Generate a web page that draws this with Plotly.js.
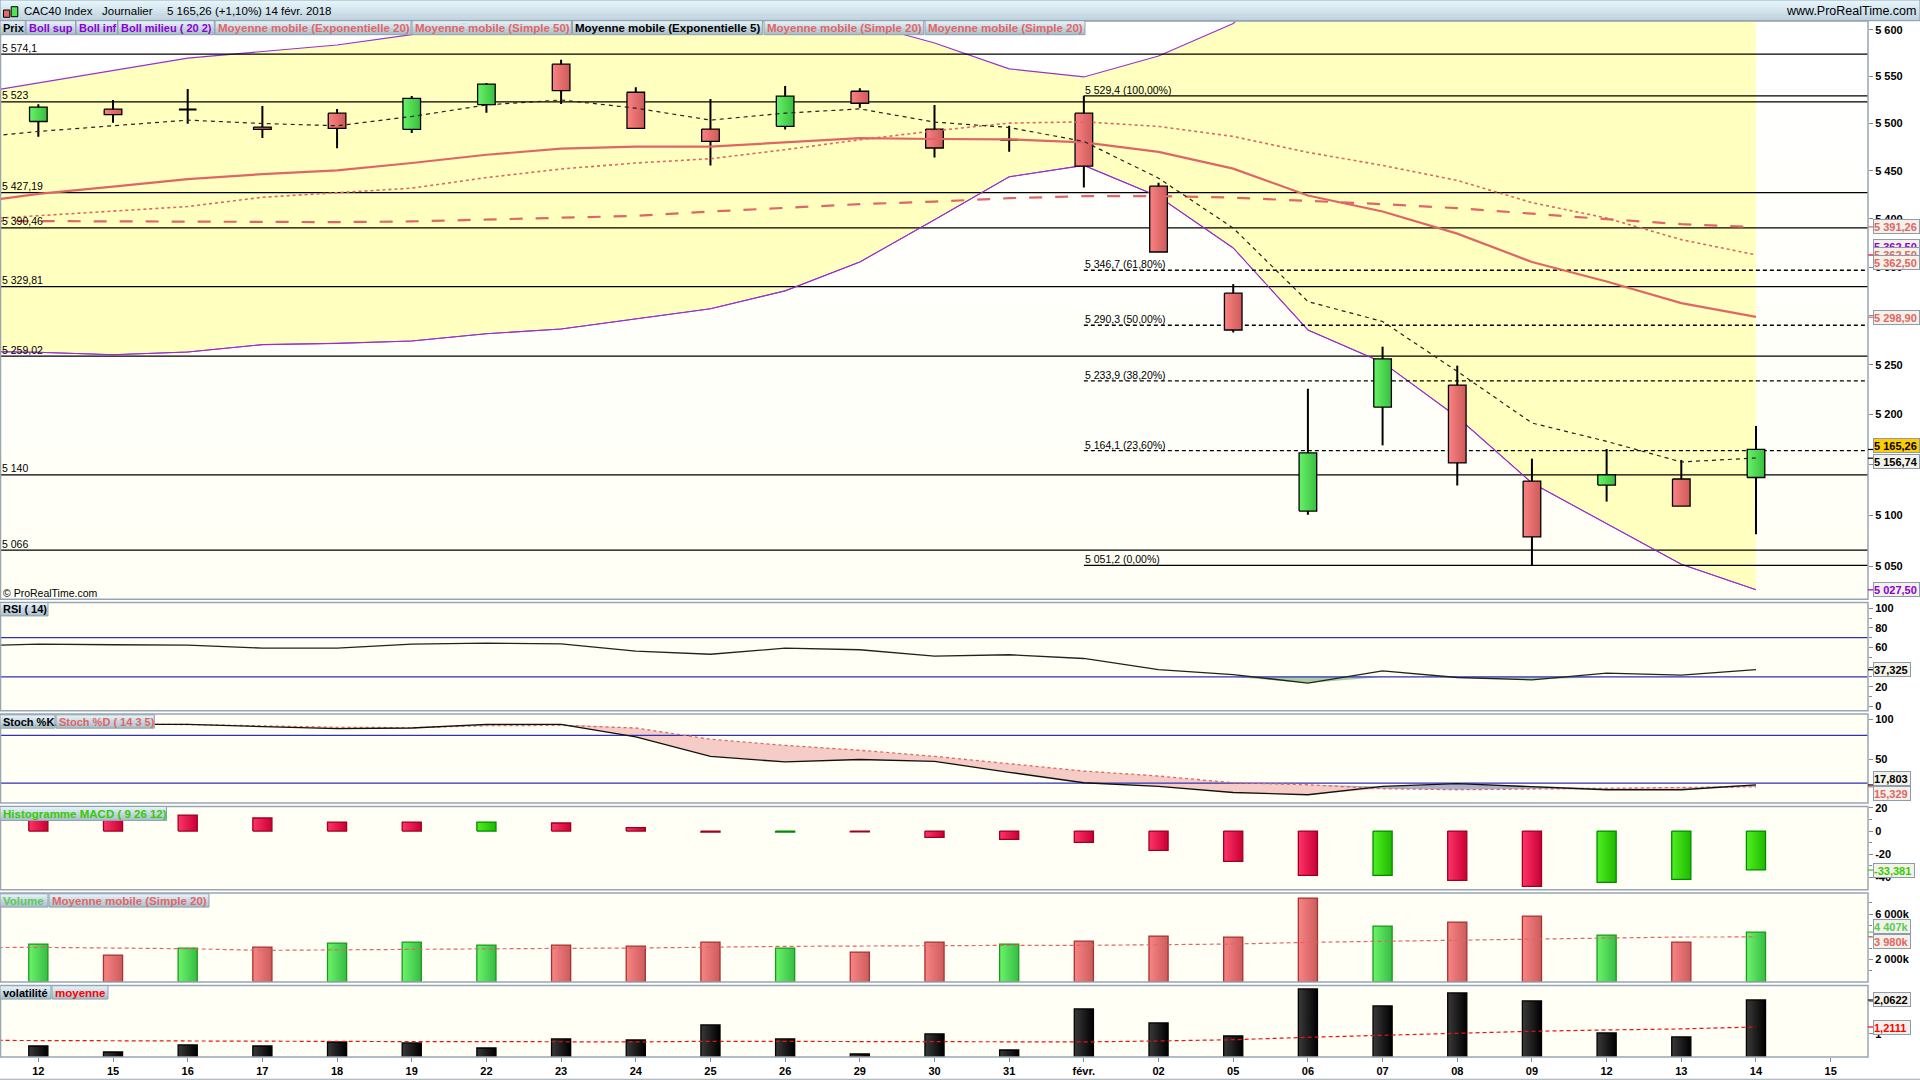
<!DOCTYPE html>
<html><head><meta charset="utf-8">
<script src="https://cdn.plot.ly/plotly-3.0.1.min.js"></script>
<style>html,body{margin:0;padding:0;background:#fff;overflow:hidden}#c{width:1920px;height:1080px}</style>
</head><body><div id="c"></div>
<script>
const tickLabels=["12","15","16","17","18","19","22","23","24","25","26","29","30","31","févr.","02","05","06","07","08","09","12","13","14","15"];
const open_=[5502.1,5515.2,5514.8,5496.2,5511,5493.7,5520,5563.2,5533.2,5494.1,5497,5534.3,5494.1,5482.8,5511,5434,5323.1,5104.3,5207.5,5229.7,5133.9,5129.9,5135.9,5137.4];
const close_=[5517.3,5509.5,5514.8,5493.7,5494.8,5526.8,5541.8,5535,5494.8,5481,5529,5521.5,5474.1,5482.8,5455.1,5365.5,5285.5,5161.8,5256.1,5151.8,5078.9,5139.9,5109.2,5165.26];
const high_=[5520.5,5525,5536.8,5518.7,5515.5,5529.3,5543.2,5567.9,5538.6,5526.1,5540,5537.5,5519.7,5497.6,5529.4,5437.5,5332.4,5226,5268.5,5249.3,5156.1,5165.7,5154.8,5188.7];
const low_=[5486,5500.8,5499.7,5484.6,5473.8,5490,5511.3,5520.8,5494.8,5455.8,5493.6,5516.6,5464.2,5470.2,5432.6,5365.5,5283,5100.7,5169.3,5129.5,5051.2,5113.6,5109.2,5081.5];
// indicator series start one bar before the first candle (index -1)
const bollUp=[5530,5543.2,5556.4,5569.7,5576.8,5583.9,5595,5612,5620,5625,5628,5625,5608,5586,5558.2,5549.6,5572.1,5607,5680,5740,5780,5800,5790,5770,5697.5];
const bollLow=[5264,5262.8,5260.4,5263.1,5270.6,5271.9,5274.3,5281.7,5286.5,5296.6,5307.1,5325.5,5355.2,5398.9,5443.8,5455.8,5423.1,5369.7,5285.5,5252.6,5197.6,5132,5091.9,5052.2,5027.5];
const sma20=[5398.4,5403,5407.5,5412.7,5422.4,5427.3,5431.9,5443,5452,5458.3,5462.8,5472.3,5482.8,5492.3,5500.4,5501.8,5496.9,5486.3,5469.5,5455.8,5440,5416.8,5400.7,5378.3,5362.5];
const ema20=[5415.5,5425.9,5433.6,5441.4,5446.6,5450.5,5458.3,5467,5473.4,5475.5,5475.5,5480,5484.6,5483.6,5483.2,5480,5470,5452.4,5424.2,5407.5,5384.5,5355.2,5335.1,5312.9,5298.9];
const sma50=[5397.8,5397.5,5396.8,5397.2,5396.5,5396.5,5397.2,5398.9,5400.7,5403,5407.5,5411,5415.2,5417.9,5421.4,5423.5,5423.5,5422,5418.6,5415.2,5411,5405.1,5399.6,5394.4,5391.26];
const ema5=[5483.9,5491.6,5497.6,5503.6,5500,5497.6,5507.4,5519.7,5525,5516.3,5503.6,5511,5515.5,5501.5,5495.8,5481,5442.4,5390.3,5314.5,5294.2,5243.5,5191.6,5173.3,5152.8,5156.74];
const hLevels=[5574.1,5523,5427.19,5390.46,5329.81,5259.02,5140,5066];
const hLabels=["5 574,1","5 523","5 427,19","5 390,46","5 329,81","5 259,02","5 140","5 066"];
const fiboLevels=[5529.4,5346.7,5290.3,5233.9,5164.1,5051.2];
const fiboLabels=["5 529,4 (100,00%)","5 346,7 (61,80%)","5 290,3 (50,00%)","5 233,9 (38,20%)","5 164,1 (23,60%)","5 051,2 (0,00%)"];
const priceTicks=[5600,5550,5500,5450,5400,5350,5300,5250,5200,5150,5100,5050];
const priceTickText=["5 600","5 550","5 500","5 450","5 400","5 350","5 300","5 250","5 200","5 150","5 100","5 050"];
const rsi=[61.2,63.5,62.8,62.4,59.4,59.4,63.5,64.5,63.8,56.3,53.1,59.3,57.7,51.2,52.6,48.8,37.4,32.4,23.7,36.2,29.4,27,33.9,31.8,37.325];
const stochK=[92,93,94,93.9,91,88.5,89.4,93.9,93.9,78.1,53.6,46.6,49.7,47.4,33.6,20.4,15.8,8.1,5.3,15.8,19.2,15.8,11.6,11.6,17.803];
const stochD=[92,93,94,93.8,92.1,90.3,89.8,92.3,92.7,89.4,75.2,67.5,61.3,53.7,44.4,35.1,28.9,20.4,17.9,12.9,11.6,12.5,13.2,14.1,15.329];
const macd=[11,11,13.7,11.2,7.7,7.7,7.7,6.9,2.9,-0.8,-0.8,-0.7,-5.4,-7.2,-9.7,-16.6,-26,-38,-38,-42.3,-47.5,-44,-41.5,-33.381];
const macdUp=[0,0,0,0,0,0,1,0,0,0,1,0,0,0,0,0,0,0,1,0,0,1,1,1];
const volume=[3354,2383,3001,3089,3442,3530,3266,3266,3177,3530,3001,2648,3530,3354,3619,4060,3972,7414,4943,5296,5825,4148,3530,4407];
const volUp=[1,0,1,0,1,1,1,0,0,0,1,0,0,1,0,0,0,0,1,0,0,1,0,1];
const volMA=[3030,3060,3001,2942,2795,2854,2913,2942,2971,3001,3089,3148,3177,3236,3236,3236,3266,3354,3501,3589,3707,3795,3883,3972,3980];
const volat=[.612,.423,.644,.612,.738,.707,.549,.833,.801,1.274,.833,.36,.991,.486,1.779,1.338,.927,2.41,1.874,2.284,2.031,1.022,.896,2.0622];
const volatMA=[.79,.78,.77,.77,.76,.76,.75,.75,.74,.74,.76,.76,.76,.75,.74,.74,.77,.81,.885,.95,1.02,1.075,1.117,1.15,1.2111];

const FONT="Liberation Sans";
const SALMON="#E06666",PURPLE="#9A30CC",BLUE="#3030B8",BORDER="#98A6B2";
const PL=1,PR=1868,PT=21,PB=1057.3;
const fx=p=>(p-PL)/(PR-PL), fy=p=>(PB-p)/(PB-PT);
const idx=Array.from({length:24},(_,i)=>i), idxM=Array.from({length:25},(_,i)=>i-1);
const traces=[];
const line=(x,y,ya,color,width,dash,extra)=>Object.assign({type:'scatter',mode:'lines',x,y,yaxis:ya,xaxis:'x',line:{color,width,dash:dash||'solid',shape:'linear'},hoverinfo:'skip',showlegend:false},extra||{});
function box(i,a,b,h,ya,c0,c1,lc,lw){
  traces.push({type:'scatter',mode:'lines',x:[i-h,i+h,i+h,i-h,i-h],y:[a,a,b,b,a],yaxis:ya,xaxis:'x',fill:'toself',
    fillgradient:{type:'horizontal',colorscale:[[0,c0],[1,c1]]},line:{color:lc,width:lw},hoverinfo:'skip',showlegend:false});
}
// MAIN
traces.push(line(idxM,bollLow,'y',PURPLE,1));
traces.push(line(idxM,bollUp,'y',PURPLE,1.1,'solid',{fill:'tonexty',fillcolor:'#FFFFC0'}));
hLevels.forEach(v=>traces.push(line([-0.5,24.5],[v,v],'y','#000',1.3)));
traces.push(line(idxM,bollLow,'y',PURPLE,1.1));
fiboLevels.forEach((v,k)=>traces.push(line([14,24.5],[v,v],'y','#000',1.3,(k===0||k===5)?'solid':'4px,3px')));
idx.forEach(i=>{
  traces.push(line([i,i],[low_[i],high_[i]],'y','#000',2));
  const up=close_[i]>open_[i], dj=close_[i]===open_[i];
  if(dj) traces.push(line([i-.118,i+.118],[close_[i],close_[i]],'y','#000',2));
  else box(i,open_[i],close_[i],.118,'y',up?'#68F268':'#FA8282',up?'#38BE3E':'#CE5A5A','#000',1.3);
});
traces.push(line(idxM,sma50,'y',SALMON,2.2,'13px,13px'));
traces.push(line(idxM,sma20,'y',SALMON,1.6,'3px,3px'));
traces.push(line(idxM,ema20,'y',SALMON,2.2));
traces.push(line(idxM,ema5,'y','#222',1.2,'4px,4px'));
// RSI
const r30=idxM.map(()=>30);
traces.push(line([-0.5,24.5],[70,70],'y2',BLUE,1.2));
traces.push(line(idxM,r30,'y2',BLUE,0));
traces.push(line(idxM,rsi.map(v=>Math.min(v,30)),'y2','rgba(0,0,0,0)',0,'solid',{fill:'tonexty',fillcolor:'#A9CDA2'}));
traces.push(line([-0.5,24.5],[30,30],'y2',BLUE,1.2));
traces.push(line(idxM,rsi,'y2','#222',1.3));
// STOCH
traces.push(line(idxM,stochK.map((v,i)=>Math.min(v,stochD[i])),'y3','rgba(0,0,0,0)',0));
traces.push(line(idxM,stochD,'y3','rgba(0,0,0,0)',0,'solid',{fill:'tonexty',fillcolor:'#F6CDC6'}));
traces.push(line(idxM,stochK.map((v,i)=>Math.max(v,stochD[i])),'y3','rgba(0,0,0,0)',0,'solid',{fill:'tonexty',fillcolor:'#AEB0CE'}));
traces.push(line([-0.5,24.5],[80,80],'y3',BLUE,1.2));
traces.push(line([-0.5,24.5],[20,20],'y3',BLUE,1.2));
traces.push(line(idxM,stochD,'y3',SALMON,1.3,'3px,3px'));
traces.push(line(idxM,stochK,'y3','#111',1.3));
// MACD
macd.forEach((v,i)=>{const u=macdUp[i];box(i,0,v,.128,'y4',u?'#50F020':'#FF3468',u?'#1FB800':'#C80034',u?'#008A00':'#A00020',1.3);});
// VOLUME
volume.forEach((v,i)=>{const u=volUp[i];box(i,0,v,.128,'y5',u?'#6CF46C':'#F98484',u?'#36BC44':'#CC5C5C',u?'#1A9A1A':'#A83232',1.3);});
traces.push(line(idxM,volMA,'y5',SALMON,1.2,'4px,3px'));
// VOLATILITE
volat.forEach((v,i)=>{box(i,0,v,.128,'y6','#3A3A3A','#000000','#000',1.3);});
traces.push(line(idxM,volatMA,'y6','#EE1111',1.2,'4px,3px'));

// shapes / annotations
const shapes=[],anns=[];
const rect=(x0,y0,x1,y1,fill,lc,lw,layer)=>shapes.push({type:'rect',xref:'paper',yref:'paper',x0:fx(x0),x1:fx(x1),y0:fy(y1),y1:fy(y0),fillcolor:fill||'rgba(0,0,0,0)',line:{color:lc||'rgba(0,0,0,0)',width:lw||0},layer:layer||'above'});
function hex(c){return [1,3,5].map(k=>parseInt(c.substr(k,2),16));}
function grad(x0,y0,x1,y1,top,bot,n,layer){
  const a=hex(top),b=hex(bot);
  for(let k=0;k<n;k++){const t=n>1?k/(n-1):0;const col='rgb('+a.map((v,j)=>Math.round(v+(b[j]-v)*t)).join(',')+')';
    rect(x0,y0+(y1-y0)*k/n,x1,y0+(y1-y0)*(k+1)/n+.3,col,null,0,layer);}
}
const panes=[[21,599.3],[602.7,711],[714.3,803.3],[806.7,890],[893.3,982.3],[985.7,1057.3]];
grad(PL,21,PR,599.3,'#FFFFFF','#FFFFF6',8,'below');
panes.slice(1).forEach(p=>rect(PL,p[0],PR,p[1],'#FFFFF5',null,0,'below'));
panes.forEach(p=>rect(.5,p[0],PR,p[1],null,BORDER,1.5));
grad(0,0,1920,20.5,'#E6F6FC','#BCD0DC',10);
rect(0,0,1920,20.6,null,BORDER,1.2);
rect(0,1079,1920,1080,BORDER);
// header icon
rect(3.5,10,9.8,17.3,'#E86868','#000',1);
rect(11.2,6.7,17.8,16.7,'#55E055','#000',1);
const txt=(s,x,y,size,color,weight,xa)=>anns.push({xref:'paper',yref:'paper',x:fx(x),y:fy(y),xanchor:xa||'left',yanchor:'middle',text:s,showarrow:false,borderpad:0,font:{family:FONT,size,color,weight:weight||400}});
txt("CAC40 Index",23,11,11.5,'#000',400);
txt("Journalier",100.8,11,11.5,'#000',400);
txt("5 165,26 (+1,10%)",166,11,11.5,'#000',400);
txt("14 févr. 2018",264,11,11.5,'#000',400);
txt("www.ProRealTime.com",1917,11,12.5,'#000',400,'right');
txt("© ProRealTime.com",2,593,10.5,'#000',400);
// legend tags: text, x0, x1, y0, y1, colour, font size
const tags=[
 ["Prix",0,25.3,20.7,34.7,'#000',11],["Boll sup",26,75.5,20.7,34.7,'#8A00D4',11],["Boll inf",76,117.6,20.7,34.7,'#8A00D4',11],["Boll milieu ( 20 2)",118,214.3,20.7,34.7,'#8A00D4',11],
 ["Moyenne mobile (Exponentielle 20)",215,411,20.7,34.7,SALMON,11.5],["Moyenne mobile (Simple 50)",412,571.4,20.7,34.7,SALMON,11.5],["Moyenne mobile (Exponentielle 5)",572.5,762.4,20.7,34.7,'#000',11.5],
 ["Moyenne mobile (Simple 20)",764,923.7,20.7,34.7,SALMON,11.5],["Moyenne mobile (Simple 20)",925,1085,20.7,34.7,SALMON,11.5],
 ["RSI ( 14)",0,48,602.7,616,'#000',11],["Stoch %K",0,55,715,728.3,'#000',11],["Stoch %D ( 14 3 5)",56,154.3,715,728.3,SALMON,11],
 ["Histogramme MACD ( 9 26 12)",0,166.5,806.7,820.7,'#33CC00',11.5],["Volume",0,48,894,907.3,'#55CC55',11.5],["Moyenne mobile (Simple 20)",49,209,894,907.3,SALMON,11.5],
 ["volatilité",0,51,986,999.3,'#000',11],["moyenne",52,108,986,999.3,'#FF0000',11.5]];
tags.forEach(t=>{grad(t[1],t[3],t[2],t[4],'#E2EEF5','#AEC2CE',5);rect(t[1],t[3],t[2],t[4],null,'#8FA2B0',1);txt(t[0],t[1]+1.5,(t[3]+t[4])/2+.2,t[6],t[5],700);});
// level labels
hLevels.forEach((v,k)=>anns.push({xref:'paper',yref:'y',x:fx(1),y:Math.log10(v),xanchor:'left',yanchor:'bottom',yshift:-0.5,text:hLabels[k],showarrow:false,borderpad:0,font:{family:FONT,size:10.5,color:'#000'}}));
fiboLevels.forEach((v,k)=>anns.push({xref:'x',yref:'y',x:14,y:Math.log10(v),xanchor:'left',yanchor:'bottom',yshift:-1,text:fiboLabels[k],showarrow:false,borderpad:0,font:{family:FONT,size:10.5,color:'#000'}}));
// right value tags
const vt=[
 ["5 391,26",227,227,45,SALMON,'#F3F1E8'],["5 362,50",247,255,45,'#8A00D4','#F3F1E8'],["5 362,50",254.5,255,45,SALMON,'#F3F1E8'],["5 362,50",262.3,255,45,SALMON,'#F3F1E8'],
 ["5 298,90",317.3,317.3,45,SALMON,'#F3F1E8'],["5 156,74",461.3,458.3,45,'#000','#F3F1E8'],["5 165,26",446,449.6,45,'#000','#FFCC00'],["5 027,50",590,590,45,'#8A00D4','#F3F1E8'],
 ["37,325",669.3,669.9,36,'#000','#F3F1E8'],["17,803",779,785.2,36,'#000','#F3F1E8'],["15,329",793.3,787,36,SALMON,'#F3F1E8'],
 ["-33,381",870.3,870.3,40,'#33CC00','#F3F1E8'],["4 407k",927,932.4,36,'#55CC55','#F3F1E8'],["3 980k",941.7,937.2,36,SALMON,'#F3F1E8'],
 ["2,0622",1000,1000.3,36,'#000','#F3F1E8'],["1,2111",1027.3,1027.3,36,'#FF0000','#F3F1E8']];
vt.forEach(t=>{
  shapes.push({type:'line',xref:'paper',yref:'paper',x0:fx(PR),x1:fx(1873),y0:fy(t[2]),y1:fy(t[2]),line:{color:t[4],width:1.2}});
  anns.push({xref:'paper',yref:'paper',x:fx(1872.7),y:fy(t[1]),xanchor:'left',yanchor:'middle',text:t[0],showarrow:false,align:'left',width:t[3],height:13,borderpad:0,borderwidth:1,bordercolor:'#8C9CAC',bgcolor:t[5],font:{family:FONT,size:11,color:t[4],weight:700}});
});

const tf={family:FONT,size:11,color:'#000',weight:700};
const yBase=(p,extra)=>Object.assign({domain:[fy(p[1]),fy(p[0])],side:'right',anchor:'x',showgrid:false,zeroline:false,showline:false,ticks:'outside',ticklen:4,tickcolor:'#7E8C98',tickwidth:1,tickfont:tf,tickmode:'array',fixedrange:true},extra);
const layout={
  width:1920,height:1080,paper_bgcolor:'#fff',plot_bgcolor:'#fff',showlegend:false,
  margin:{l:PL,r:1920-PR,t:PT,b:1080-PB,pad:0},
  shapes,annotations:anns,
  xaxis:{domain:[0,1],range:[-0.5,24.5],anchor:'y6',tickmode:'array',tickvals:tickLabels.map((_,i)=>i),ticktext:tickLabels,tickfont:tf,ticks:'outside',ticklen:4,tickcolor:'#7E8C98',showgrid:false,zeroline:false,showline:false,fixedrange:true},
  yaxis:yBase(panes[0],{type:'log',range:[Math.log10(5018.4),Math.log10(5609.7)],tickvals:priceTicks,ticktext:priceTickText}),
  yaxis2:yBase(panes[1],{range:[-4.6,105.9],tickvals:[100,80,60,40,20,0],ticktext:["100","80","60","40","20","0"],minor:{tickmode:'array',tickvals:[90,70,50,30,10],ticks:'outside',ticklen:3,tickcolor:'#7E8C98'}}),
  yaxis3:yBase(panes[2],{range:[-5.2,106.9],tickvals:[100,50],ticktext:["100","50"]}),
  yaxis4:yBase(panes[3],{range:[-50.4,21.1],tickvals:[20,0,-20,-40],ticktext:["20","0","-20","-40"],minor:{tickmode:'array',tickvals:[10,-10,-30],ticks:'outside',ticklen:3,tickcolor:'#7E8C98'}}),
  yaxis5:yBase(panes[4],{range:[0,7855],tickvals:[6000,2000],ticktext:["6 000k","2 000k"],minor:{tickmode:'array',tickvals:[1000,3000,4000,5000,7000],ticks:'outside',ticklen:3,tickcolor:'#7E8C98'}}),
  yaxis6:yBase(panes[5],{range:[.265,2.52],tickvals:[1,2],ticktext:["1","2"]})
};
Plotly.newPlot('c',traces,layout,{displayModeBar:false,staticPlot:true});
</script></body></html>
